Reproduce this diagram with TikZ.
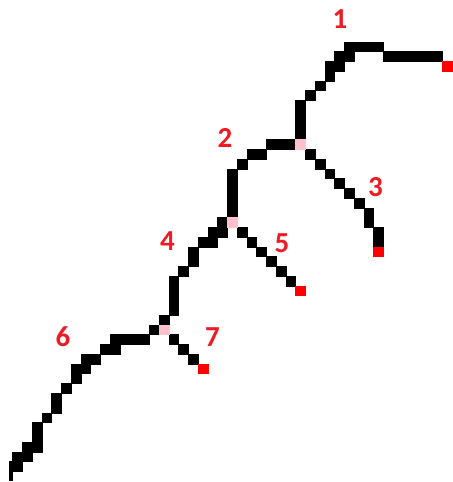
\documentclass[tikz,border=0pt]{standalone}
\usepackage{fontspec}
\setmainfont{Carlito}
\definecolor{skel}{HTML}{000000}
\definecolor{joint}{HTML}{FFC0CB}
\definecolor{tip}{HTML}{FF0000}
\definecolor{numred}{HTML}{ED1C24}
\begin{document}
\begin{tikzpicture}[x=9.76pt,y=-9.76pt,
  pix/.style={fill=#1,draw=#1,line width=0.2pt},
  num/.style={text=numred,font=\bfseries\fontsize{29}{30}\selectfont,inner sep=0pt}]
\useasboundingbox[fill=white] (-0.2766,-0.2766) rectangle (46.137,49.109);
% skeleton pixels, one unit cell each
\foreach \i/\j in {
  30/10,30/11,30/12,30/13,31/9,32/8,33/7,33/6,34/6,34/5,35/5,
  35/4,36/4,37/4,38/4,39/5,40/5,41/5,42/5,43/5,44/5,
  31/15,32/16,33/17,34/18,35/19,36/20,37/21,37/22,38/23,38/24,
  27/14,28/14,29/14,25/15,26/15,24/16,23/17,23/18,23/19,23/20,23/21,
  24/23,25/24,26/25,27/26,28/27,29/28,
  22/22,21/23,22/23,20/24,21/24,19/25,19/26,18/27,
  17/28,17/29,17/30,17/31,16/32,15/33,
  17/34,18/35,19/36,
  11/34,12/34,13/34,14/34,10/35,11/35,8/36,9/36,7/37,8/37,7/38,
  6/39,5/40,5/41,4/42,3/43,3/44,2/45,3/45,1/46,2/46,1/47}
  \path[pix=skel] (\i,\j) rectangle ++(1,1);
% cut column at the lower left edge
\path[pix=skel] (0.676,47) rectangle (1,48.9);
% junction pixels
\foreach \i/\j/\n in {30/14/ja,23/22/jb,16/33/jc}
  \path[pix=joint] (\i,\j) rectangle ++(1,1) coordinate (\n);
% end pixels
\foreach \i/\j/\n in {45/6/e1,38/25/e3,30/29/e5,20/37/e7}
  \path[pix=tip] (\i,\j) rectangle ++(1,1) coordinate (\n);
% branch numbers
\node[num] (n1) at (34.56,1.72) {1};
\node[num] (n2) at (22.78,13.91) {2};
\node[num] (n3) at (38.20,18.93) {3};
\node[num] (n4) at (16.89,24.42) {4};
\node[num] (n5) at (28.62,24.62) {5};
\node[num] (n6) at (6.18,34.22) {6};
\node[num] (n7) at (21.50,34.25) {7};
\end{tikzpicture}
\end{document}
